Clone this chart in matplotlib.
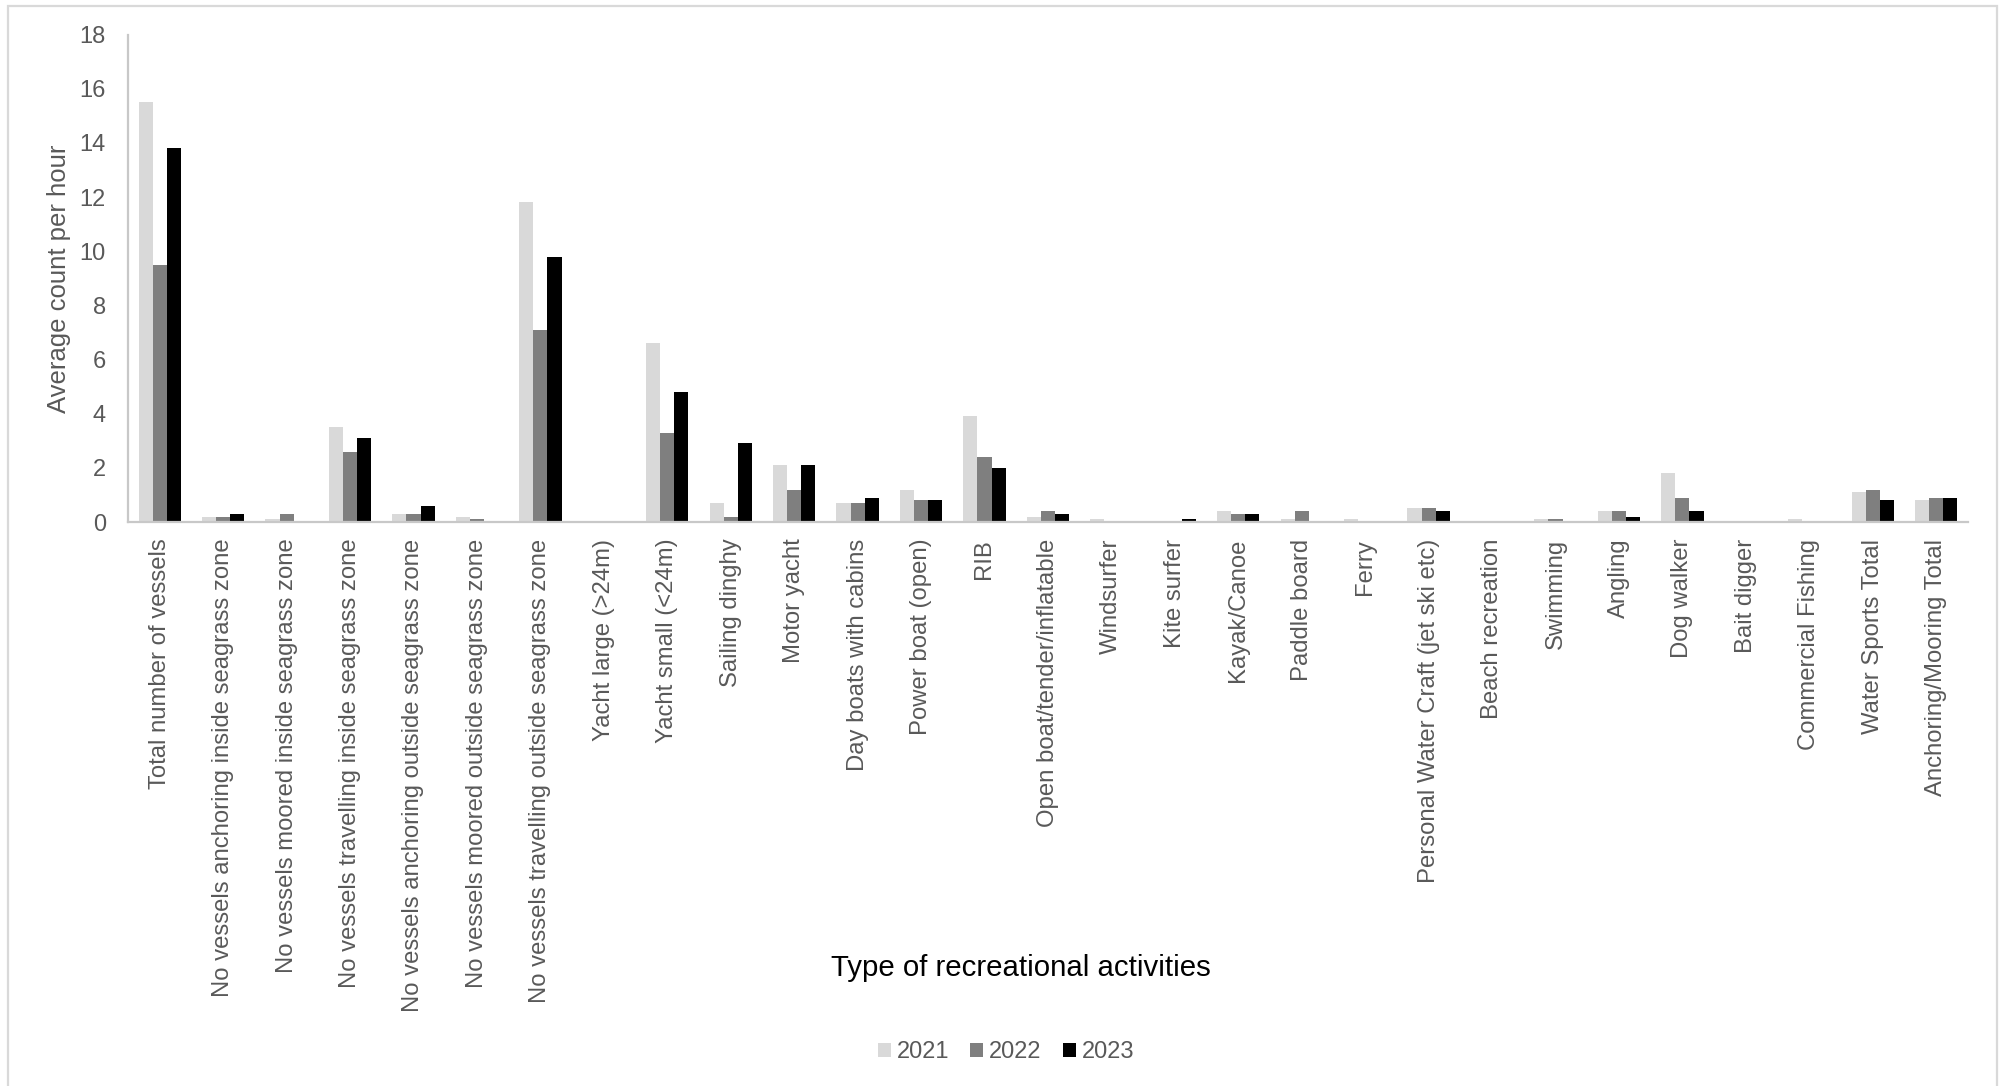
import matplotlib
matplotlib.use('Agg')
import matplotlib.pyplot as plt
import numpy as np
from matplotlib.patches import Rectangle

plt.rcParams['font.family'] = ['Liberation Sans', 'DejaVu Sans']

activities = [
    'Total number of vessels',
    'No vessels anchoring inside seagrass zone',
    'No vessels moored inside seagrass zone',
    'No vessels travelling inside seagrass zone',
    'No vessels anchoring outside seagrass zone',
    'No vessels moored outside seagrass zone',
    'No vessels travelling outside seagrass zone',
    'Yacht large (>24m)',
    'Yacht small (<24m)',
    'Sailing dinghy',
    'Motor yacht',
    'Day boats with cabins',
    'Power boat (open)',
    'RIB',
    'Open boat/tender/inflatable',
    'Windsurfer',
    'Kite surfer',
    'Kayak/Canoe',
    'Paddle board',
    'Ferry',
    'Personal Water Craft (jet ski etc)',
    'Beach recreation',
    'Swimming',
    'Angling',
    'Dog walker',
    'Bait digger',
    'Commercial Fishing',
    'Water Sports Total',
    'Anchoring/Mooring Total',
]

y2021 = [15.5, 0.2, 0.1, 3.5, 0.3, 0.2, 11.8, 0.0, 6.6, 0.7, 2.1, 0.7, 1.2, 3.9, 0.2,
         0.1, 0.0, 0.4, 0.1, 0.1, 0.5, 0.0, 0.1, 0.4, 1.8, 0.0, 0.1, 1.1, 0.8]
y2022 = [9.5, 0.2, 0.3, 2.6, 0.3, 0.1, 7.1, 0.0, 3.3, 0.2, 1.2, 0.7, 0.8, 2.4, 0.4,
         0.0, 0.0, 0.3, 0.4, 0.0, 0.5, 0.0, 0.1, 0.4, 0.9, 0.0, 0.0, 1.2, 0.9]
y2023 = [13.8, 0.3, 0.0, 3.1, 0.6, 0.0, 9.8, 0.0, 4.8, 2.9, 2.1, 0.9, 0.8, 2.0, 0.3,
         0.0, 0.1, 0.3, 0.0, 0.0, 0.4, 0.0, 0.0, 0.2, 0.4, 0.0, 0.0, 0.8, 0.9]

years = ['2021', '2022', '2023']
colors = ['#D9D9D9', '#7F7F7F', '#000000']
grey_txt = '#595959'

fig = plt.figure(figsize=(20.06, 10.86), dpi=100)
ax = fig.add_axes([0.0638, 0.5193, 0.9172, 0.4489])

x = np.arange(len(activities))
w = 0.222
for i, (vals, yr, c) in enumerate(zip([y2021, y2022, y2023], years, colors)):
    ax.bar(x + (i - 1) * w, vals, width=w, color=c, label=yr, linewidth=0)

ax.set_xlim(-0.5, len(activities) - 0.5)
ax.set_ylim(0, 18)
ax.set_yticks(np.arange(0, 19, 2))
ax.set_xticks(x)
ax.set_xticklabels(activities, rotation=90, ha='center', va='top')
ax.tick_params(axis='x', length=0, pad=12, labelsize=17.2, labelcolor=grey_txt)
ax.tick_params(axis='y', length=0, pad=16, labelsize=17, labelcolor=grey_txt)

for s in ['top', 'right']:
    ax.spines[s].set_visible(False)
for s in ['left', 'bottom']:
    ax.spines[s].set_color('#C8C8C8')
    ax.spines[s].set_linewidth(1.6)

fig.text(0.0293, 0.743, 'Average count per hour', rotation=90, ha='center', va='center',
         fontsize=18.5, color=grey_txt)
fig.text(0.509, 0.1087, 'Type of recreational activities', ha='center', va='center',
         fontsize=21.2, color='black')

leg = fig.legend(loc='center', bbox_to_anchor=(0.5015, 0.0313), ncol=3, frameon=False,
                 fontsize=17, handlelength=0.55, handleheight=0.55, handletextpad=0.25,
                 columnspacing=0.9)
for t in leg.get_texts():
    t.set_color(grey_txt)

# chart area border
fig.add_artist(Rectangle((0.004, -0.01), 0.9915, 1.0045, transform=fig.transFigure,
                         fill=False, ec='#D9D9D9', lw=1.6))

fig.savefig('out.png', dpi=100)
